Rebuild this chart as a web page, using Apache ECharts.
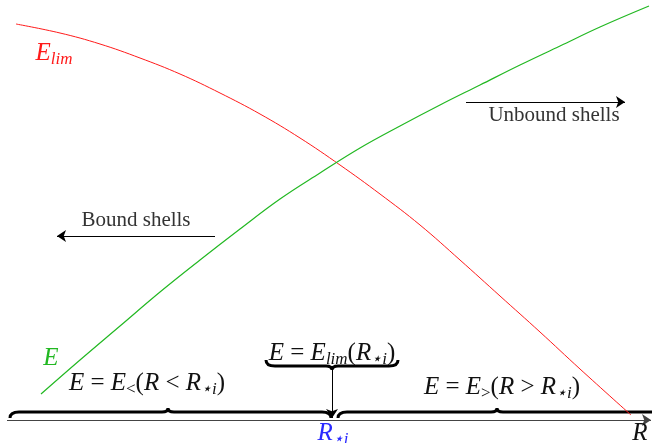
<!DOCTYPE html>
<html>
<head>
<meta charset="utf-8">
<script src="https://cdn.jsdelivr.net/npm/echarts@6/dist/echarts.min.js"></script>
<style>
  html, body { margin: 0; padding: 0; background: #fff; }
  #chart { width: 652px; height: 443px; }
</style>
</head>
<body>
<div id="chart"></div>
<script>
// curves (R along the axis, E upwards, axis at E = 0)
const elimR = [16, 60, 100, 140, 180, 220, 260, 300, 340, 380, 420, 460, 500, 540, 580, 631]
const elimE = [396, 387, 376, 362, 346, 327, 306, 282, 255, 226, 195, 160, 124, 88, 51, 5]
const energyR = [41, 80, 120, 160, 200, 240, 280, 320, 360, 400, 440, 480, 520, 560, 600, 649]
const energyE = [26, 60, 94, 128, 160, 191, 221, 247, 272, 294, 315, 335, 355, 374, 393, 414]

// braces: span on R, level in E, direction (1 = tip up, -1 = tip down)
const braceFrom = [10, 338, 266]
const braceTo = [331, 660, 398]
const braceTip = [168, 497, 332]
const braceLevel = [8, 8, 54]
const braceDir = [1, 1, -1]

// arrows
const arrowFrom = [[215, 184], [466, 318], [332, 50]]
const arrowTo = [[57, 184], [625, 318], [332, 2]]
const axisFrom = [7, 0]
const axisTo = [651, 0]

// labels
const labelText = [
  '{it|E}{sub|lim}',
  '{it|E}',
  '{txt|Bound shells}',
  '{txt|Unbound shells}',
  '{it|E}{rm| = }{it|E}{subr|<}{rm|(}{it|R}{rm| < }{it|R}{sub|⋆i}{rm|)}',
  '{it|E}{rm| = }{it|E}{sub|lim}{rm|(}{it|R}{sub|⋆i}{rm|)}',
  '{it|E}{rm| = }{it|E}{subr|>}{rm|(}{it|R}{rm| > }{it|R}{sub|⋆i}{rm|)}',
  '{it|R}{sub|⋆i}',
  '{it|R}'
]
const labelR = [54, 51, 136, 554, 147, 332, 502, 333, 640]
const labelE = [367, 62, 200, 305, 37, 67, 33, -13, -13]
const labelColor = ['#ff1a1a', '#22b822', '#333', '#333', '#111', '#111', '#111', '#2a2aff', '#111']

const serif = '"Liberation Serif", "DejaVu Serif", serif'
const rich = {
  it: { fontFamily: serif, fontStyle: 'italic', fontSize: 25, lineHeight: 30, verticalAlign: 'middle' },
  rm: { fontFamily: serif, fontSize: 25, lineHeight: 30, verticalAlign: 'middle' },
  sub: { fontFamily: serif, fontStyle: 'italic', fontSize: 17, lineHeight: 17, verticalAlign: 'bottom' },
  subr: { fontFamily: serif, fontSize: 17, lineHeight: 17, verticalAlign: 'bottom' },
  txt: { fontFamily: serif, fontSize: 21, lineHeight: 24, verticalAlign: 'middle' }
}

const chart = echarts.init(document.getElementById('chart'))

const renderBrace = (params, api) => {
  const a = api.coord([api.value(0), api.value(3)])
  const b = api.coord([api.value(1), api.value(3)])
  const m = api.coord([api.value(2), api.value(3)])
  const s = api.value(4) // 1 tip up, -1 tip down
  const y = a[1]
  const w = 9, h = 6, cw = 6, ch = 4
  const d = [
    'M', a[0], y + s * h,
    'Q', a[0], y, a[0] + w, y,
    'L', m[0] - cw, y,
    'Q', m[0], y, m[0], y - s * ch,
    'Q', m[0], y, m[0] + cw, y,
    'L', b[0] - w, y,
    'Q', b[0], y, b[0], y + s * h
  ].join(' ')
  return {
    type: 'path',
    shape: { pathData: d },
    style: { fill: 'none', stroke: '#000', lineWidth: 3 }
  }
}

const renderLabel = (params, api) => {
  const i = params.dataIndex
  const p = api.coord([api.value(0), api.value(1)])
  return {
    type: 'text',
    x: p[0],
    y: p[1],
    style: {
      text: labelText[i],
      rich: rich,
      fill: labelColor[i],
      align: 'center',
      verticalAlign: 'middle'
    }
  }
}

const option = {
  animation: false,
  grid: { left: 0, right: 0, top: 0, bottom: 0 },
  xAxis: { type: 'value', min: 0, max: 652, show: false },
  yAxis: { type: 'value', min: -23, max: 420, show: false },
  series: [
    {
      type: 'line',
      data: elimR.map((r, i) => [r, elimE[i]]),
      smooth: 0.4,
      symbol: 'none',
      lineStyle: { color: '#ff1a1a', width: 1 }
    },
    {
      type: 'line',
      data: energyR.map((r, i) => [r, energyE[i]]),
      smooth: 0.4,
      symbol: 'none',
      lineStyle: { color: '#22b822', width: 1.2 }
    },
    {
      type: 'lines',
      coordinateSystem: 'cartesian2d',
      symbol: ['none', 'arrow'],
      symbolSize: [6, 9],
      lineStyle: { color: '#444', width: 1, opacity: 1 },
      data: [{ coords: [axisFrom, axisTo] }]
    },
    {
      type: 'lines',
      coordinateSystem: 'cartesian2d',
      symbol: ['none', 'arrow'],
      symbolSize: [6, 9],
      lineStyle: { color: '#000', width: 1, opacity: 1 },
      data: arrowFrom.map((p, i) => ({ coords: [p, arrowTo[i]] }))
    },
    {
      type: 'custom',
      renderItem: renderBrace,
      data: braceFrom.map((f, i) => [f, braceTo[i], braceTip[i], braceLevel[i], braceDir[i]])
    },
    {
      type: 'custom',
      renderItem: renderLabel,
      data: labelR.map((r, i) => [r, labelE[i]])
    }
  ]
}

chart.setOption(option)
</script>
</body>
</html>
